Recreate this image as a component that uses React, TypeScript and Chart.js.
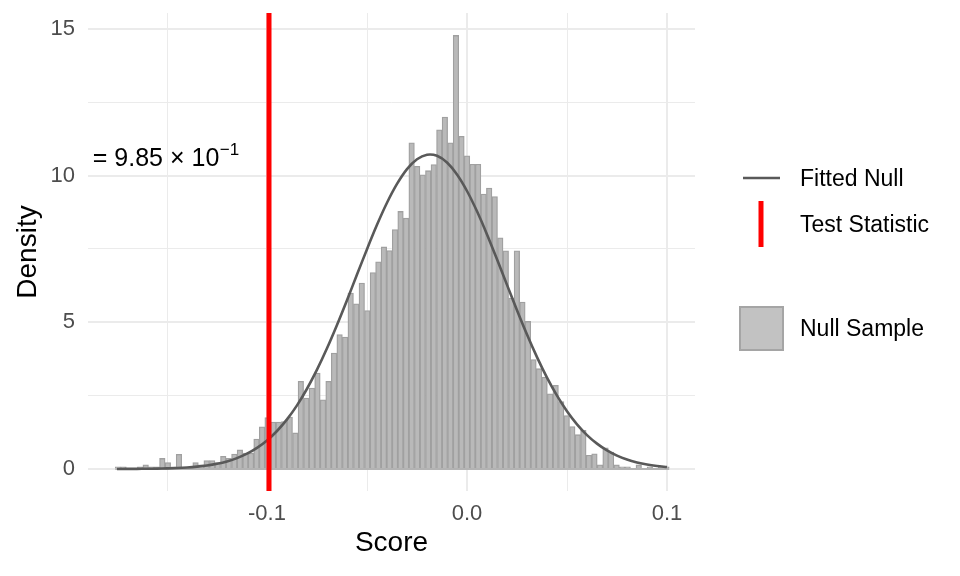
import { useEffect, useRef } from 'react';
import { Chart, registerables, type ChartConfiguration } from 'chart.js';

Chart.register(...registerables);

// histogram of the null sample (density per bin, 100 bins)
const NULL_DENSITY = [
    0.07, 0.07, 0, 0, 0.07, 0.14, 0.07, 0.07, 0.36, 0.22,
    0.07, 0.5, 0, 0, 0.22, 0.14, 0.29, 0.29, 0.22, 0.43,
    0.36, 0.51, 0.65, 0.54, 0.54, 1.02, 1.44, 1.75, 1.6, 1.6,
    1.62, 1.77, 1.23, 2.99, 2.42, 2.76, 3.27, 2.36, 2.99, 3.95,
    4.58, 4.5, 6.0, 5.63, 6.34, 5.4, 6.7, 7.06, 7.57, 7.45,
    8.16, 8.78, 8.55, 11.12, 10.32, 10.03, 10.17, 10.38, 11.56, 12.0,
    11.12, 14.78, 11.34, 10.68, 10.39, 10.39, 9.37, 9.58, 9.29, 7.88,
    7.44, 5.83, 7.44, 5.69, 5.03, 3.73, 3.42, 3.13, 2.56, 2.85,
    2.3, 1.82, 1.45, 1.17, 1.32, 0.47, 0.52, 0.14, 0.72, 0.58,
    0.14, 0.07, 0.07, 0, 0.14, 0, 0.07, 0, 0.07, 0.07,
];
const FIRST_BIN_CENTER = -0.1745;
const BIN_WIDTH = 0.00277;
const BIN_CENTERS = NULL_DENSITY.map((_, i) => FIRST_BIN_CENTER + i * BIN_WIDTH);

// fitted null curve
const CURVE_X = [
    -0.175, -0.17, -0.165, -0.16, -0.155, -0.15, -0.145, -0.14, -0.135, -0.13,
    -0.125, -0.12, -0.115, -0.11, -0.105, -0.1, -0.095, -0.09, -0.085, -0.08,
    -0.075, -0.07, -0.065, -0.06, -0.055, -0.05, -0.045, -0.04, -0.035, -0.03,
    -0.025, -0.02, -0.015, -0.01, -0.005, 0, 0.005, 0.01, 0.015, 0.02,
    0.025, 0.03, 0.035, 0.04, 0.045, 0.05, 0.055, 0.06, 0.065, 0.07,
    0.075, 0.08, 0.085, 0.09, 0.095, 0.1,
];
const CURVE_Y = [
    0.002, 0.003, 0.005, 0.008, 0.013, 0.021, 0.033, 0.052, 0.08, 0.12,
    0.178, 0.259, 0.371, 0.521, 0.719, 0.973, 1.295, 1.691, 2.169, 2.736,
    3.386, 4.115, 4.911, 5.754, 6.628, 7.494, 8.323, 9.075, 9.717, 10.223,
    10.561, 10.715, 10.677, 10.448, 10.04, 9.477, 8.784, 7.997, 7.15, 6.277,
    5.413, 4.583, 3.813, 3.113, 2.499, 1.969, 1.523, 1.157, 0.864, 0.633,
    0.456, 0.322, 0.224, 0.152, 0.102, 0.067,
];

const TEST_STAT = -0.099;
const P_TEXT = 'p = 9.85 \u00d7 10';
const P_EXPONENT = '\u22121';
const P_ANCHOR = { x: -0.1139, y: 10.33 };

const X_MIN = -0.1895;
const X_MAX = 0.114;
const Y_MIN = -0.75;
const Y_MAX = 15.545;

const X_TICKS = [-0.15, -0.1, -0.05, 0, 0.05, 0.1];
const X_LABELS = ['', '-0.1', '', '0.0', '', '0.1'];
const Y_TICKS = [0, 2.5, 5, 7.5, 10, 12.5, 15];
const Y_LABELS = ['0', '', '5', '', '10', '', '15'];

const LEGEND_LABELS = ['Fitted Null', 'Test Statistic', 'Null Sample'];

const FONT = "'Liberation Sans', Arial, sans-serif";
const BAR_FILL = '#B9B9B9';
const BAR_EDGE = '#A0A0A0';
const CURVE_COLOR = '#595959';
const RED = '#FF0000';
const GRID = '#EBEBEB';

const extras = {
    id: 'extras',
    beforeDatasetsDraw(chart: Chart) {
        const { ctx, scales } = chart;
        const x = scales.x;
        const y = scales.y;
        const y0 = y.getPixelForValue(0);
        ctx.save();
        ctx.strokeStyle = BAR_EDGE;
        ctx.lineWidth = 1.4;
        ctx.beginPath();
        ctx.moveTo(x.getPixelForValue(BIN_CENTERS[0] - BIN_WIDTH / 2), y0);
        ctx.lineTo(x.getPixelForValue(BIN_CENTERS[BIN_CENTERS.length - 1] + BIN_WIDTH / 2), y0);
        ctx.stroke();
        ctx.restore();
    },
    afterDatasetsDraw(chart: Chart) {
        const { ctx, chartArea, scales } = chart;
        const px = scales.x.getPixelForValue(P_ANCHOR.x);
        const py = scales.y.getPixelForValue(P_ANCHOR.y);
        ctx.save();
        ctx.beginPath();
        ctx.rect(chartArea.left, chartArea.top, chartArea.right - chartArea.left, chartArea.bottom - chartArea.top);
        ctx.clip();
        ctx.fillStyle = '#000000';
        ctx.textBaseline = 'alphabetic';
        ctx.textAlign = 'right';
        ctx.font = `17px ${FONT}`;
        const expW = ctx.measureText(P_EXPONENT).width;
        ctx.fillText(P_EXPONENT, px, py - 11);
        ctx.font = `25px ${FONT}`;
        ctx.fillText(P_TEXT, px - expW - 0.5, py);
        ctx.restore();
    },
    afterDraw(chart: Chart) {
        const { ctx } = chart;
        ctx.save();
        // Fitted Null
        ctx.strokeStyle = CURVE_COLOR;
        ctx.lineWidth = 2.6;
        ctx.beginPath();
        ctx.moveTo(743, 178);
        ctx.lineTo(780, 178);
        ctx.stroke();
        // Test Statistic
        ctx.strokeStyle = RED;
        ctx.lineWidth = 5;
        ctx.beginPath();
        ctx.moveTo(761, 201);
        ctx.lineTo(761, 247);
        ctx.stroke();
        // Null Sample
        ctx.fillStyle = '#C2C2C2';
        ctx.fillRect(739, 306, 45, 45);
        ctx.strokeStyle = '#A5A5A5';
        ctx.lineWidth = 2;
        ctx.strokeRect(740, 307, 43, 43);

        ctx.fillStyle = '#000000';
        ctx.font = `23px ${FONT}`;
        ctx.textAlign = 'left';
        ctx.textBaseline = 'alphabetic';
        ctx.fillText(LEGEND_LABELS[0], 800, 186);
        ctx.fillText(LEGEND_LABELS[1], 800, 232);
        ctx.fillText(LEGEND_LABELS[2], 800, 336);
        ctx.restore();
    },
};

function NullChart() {
    const canvasRef = useRef<HTMLCanvasElement>(null);
    const chartRef = useRef<Chart | null>(null);

    useEffect(() => {
        if (!canvasRef.current) return;
        document.body.style.margin = '0';

        if (chartRef.current) {
            chartRef.current.destroy();
        }

        const config: ChartConfiguration = {
            type: 'bar',
            data: {
                datasets: [
                    {
                        type: 'line',
                        data: [
                            { x: TEST_STAT, y: Y_MIN },
                            { x: TEST_STAT, y: Y_MAX },
                        ],
                        borderColor: RED,
                        borderWidth: 5,
                        pointRadius: 0,
                        order: 0,
                    },
                    {
                        type: 'line',
                        data: CURVE_X.map((x, i) => ({ x, y: CURVE_Y[i] })),
                        borderColor: CURVE_COLOR,
                        borderWidth: 2.6,
                        pointRadius: 0,
                        tension: 0.3,
                        order: 1,
                    },
                    {
                        type: 'bar',
                        data: BIN_CENTERS.map((x, i) => ({ x, y: NULL_DENSITY[i] })),
                        backgroundColor: BAR_FILL,
                        borderColor: BAR_EDGE,
                        borderWidth: 1.3,
                        barPercentage: 1,
                        categoryPercentage: 1,
                        order: 2,
                    },
                ],
            } as any,
            options: {
                responsive: false,
                animation: false,
                events: [],
                layout: { padding: { left: 0, top: 13, right: 265, bottom: 0 } },
                plugins: {
                    legend: { display: false },
                    tooltip: { enabled: false },
                },
                scales: {
                    x: {
                        type: 'linear',
                        min: X_MIN,
                        max: X_MAX,
                        offset: false,
                        afterBuildTicks: (scale: any) => {
                            scale.ticks = X_TICKS.map((value) => ({ value }));
                        },
                        afterFit: (scale: any) => {
                            scale.height = 85;
                            scale.paddingLeft = 0;
                            scale.paddingRight = 0;
                        },
                        ticks: {
                            autoSkip: false,
                            maxRotation: 0,
                            padding: 10,
                            color: '#4D4D4D',
                            font: { family: FONT, size: 22 },
                            callback: (_v: any, index: number) => X_LABELS[index],
                        },
                        grid: {
                            offset: false,
                            color: GRID,
                            lineWidth: (c: any) => (X_LABELS[c.index] ? 2 : 1),
                            drawTicks: false,
                        },
                        border: { display: false },
                        title: {
                            display: true,
                            text: 'Score',
                            color: '#000000',
                            font: { family: FONT, size: 28 },
                            padding: { top: 0, bottom: 16 },
                        },
                    },
                    y: {
                        type: 'linear',
                        min: Y_MIN,
                        max: Y_MAX,
                        afterBuildTicks: (scale: any) => {
                            scale.ticks = Y_TICKS.map((value) => ({ value }));
                        },
                        afterFit: (scale: any) => {
                            scale.width = 88;
                            scale.paddingTop = 0;
                            scale.paddingBottom = 0;
                        },
                        ticks: {
                            autoSkip: false,
                            padding: 13,
                            color: '#4D4D4D',
                            font: { family: FONT, size: 22 },
                            callback: (_v: any, index: number) => Y_LABELS[index],
                        },
                        grid: {
                            color: GRID,
                            lineWidth: (c: any) => (Y_LABELS[c.index] ? 2 : 1),
                            drawTicks: false,
                        },
                        border: { display: false },
                        title: {
                            display: true,
                            text: 'Density',
                            color: '#000000',
                            font: { family: FONT, size: 28 },
                            padding: { top: 11, bottom: 0 },
                        },
                    },
                },
            },
            plugins: [extras],
        };

        chartRef.current = new Chart(canvasRef.current, config);

        return () => {
            if (chartRef.current) {
                chartRef.current.destroy();
                chartRef.current = null;
            }
        };
    }, []);

    return (
        <div style={{ width: 960, height: 576, background: '#FFFFFF' }}>
            <canvas ref={canvasRef} width={960} height={576}></canvas>
        </div>
    );
}

export default function App() {
    return <NullChart />;
}
